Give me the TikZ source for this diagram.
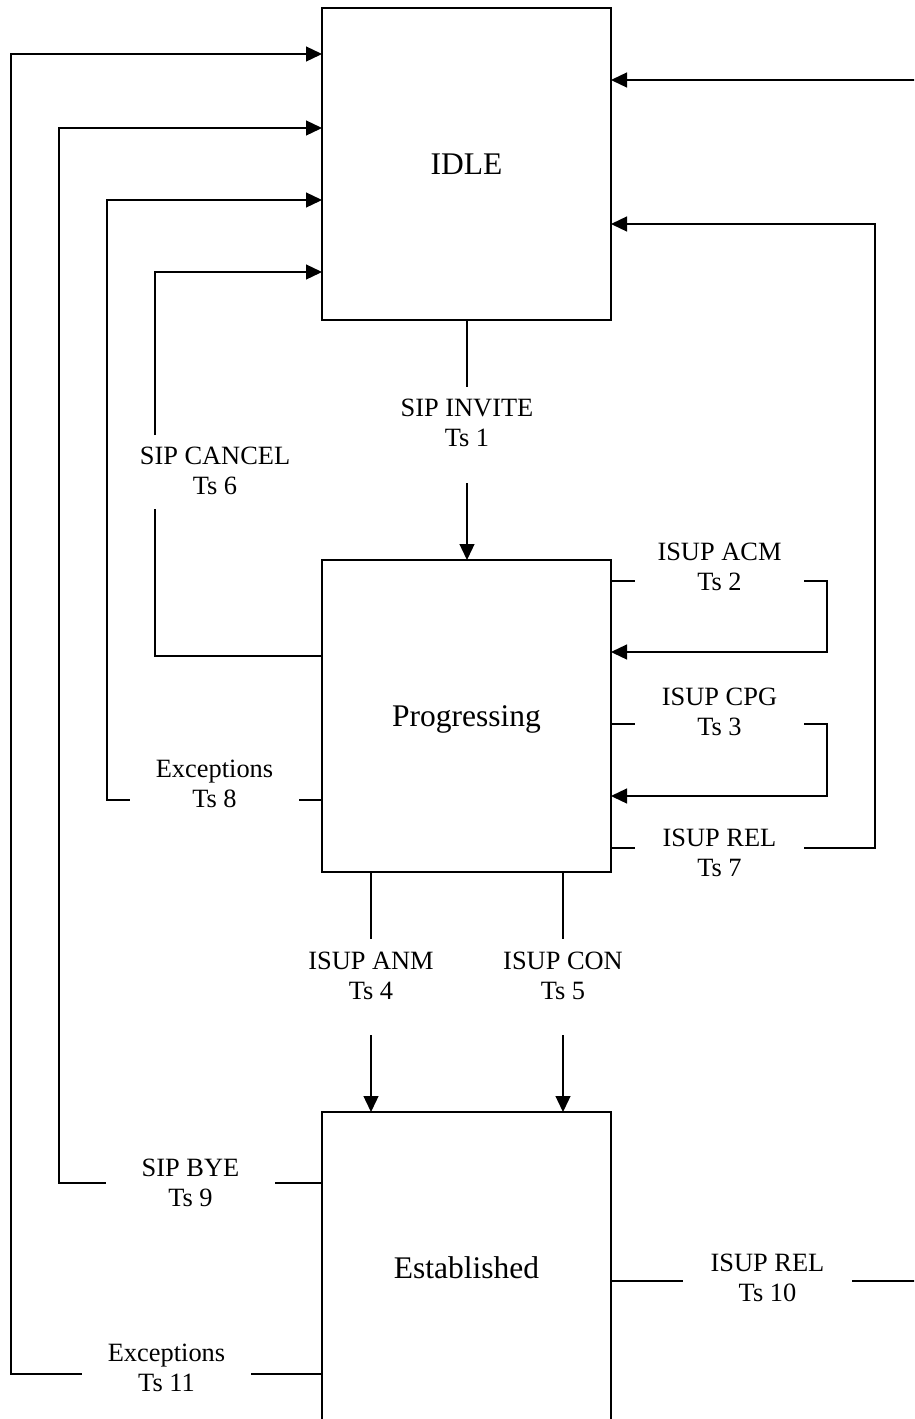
\documentclass[tikz,border=0pt]{standalone}
\usepackage{fontspec}
\setmainfont{Liberation Serif}
\usetikzlibrary{arrows.meta}
\begin{document}
\begin{tikzpicture}[x=1pt,y=-1pt,
  state/.style={draw, line width=1.5pt, minimum width=289pt, minimum height=312pt,
    inner sep=0pt, outer sep=0pt, font=\fontsize{31.5}{36}\selectfont,
    text height=20.9pt, text depth=0pt},
  lbl/.style={inner sep=0pt, minimum width=169pt, align=center,
    font=\fontsize{26.4}{30}\selectfont},
  conn/.style={line width=1.3pt},
  arr/.style={conn, -{Triangle[length=16pt 0 0,width=15pt 0 0]}}]
\useasboundingbox (0,0) rectangle (914,1419);
\clip (0,0) rectangle (914,1419);

% states
\node[state] (idle) at (466.5,164) {IDLE};
\node[state] (prog) at (466.5,716) {Progressing};
\node[state] (est)  at (466.5,1268) {Established};

% labels
\node[lbl] (inv)    at (467,422.5)    {SIP INVITE\\Ts 1};
\node[lbl] (cancel) at (215,470.5)    {SIP CANCEL\\Ts 6};
\node[lbl] (acm)    at (719.5,567)    {ISUP ACM\\Ts 2};
\node[lbl] (cpg)    at (719.5,711.5)  {ISUP CPG\\Ts 3};
\node[lbl] (rel7)   at (719.5,853)    {ISUP REL\\Ts 7};
\node[lbl] (exc8)   at (214.5,784)    {Exceptions\\Ts 8};
\node[lbl] (anm)    at (371,975.5)    {ISUP ANM\\Ts 4};
\node[lbl] (con)    at (563,975.5)    {ISUP CON\\Ts 5};
\node[lbl] (bye)    at (190.5,1182.5) {SIP BYE\\Ts 9};
\node[lbl] (exc11)  at (166.5,1367.5) {Exceptions\\Ts 11};
\node[lbl] (rel10)  at (767.5,1277.5) {ISUP REL\\Ts 10};

% helper coordinates
\coordinate (invA) at (467,387);  \coordinate (invB) at (467,483);
\coordinate (canA) at (155,435);  \coordinate (canB) at (155,509);
\coordinate (anmA) at (371,939);  \coordinate (anmB) at (371,1035);
\coordinate (conA) at (563,939);  \coordinate (conB) at (563,1035);
\coordinate (k11) at (11,1374);   \coordinate (t11) at (11,54);
\coordinate (k9)  at (59,1183);   \coordinate (t9)  at (59,128);
\coordinate (k8)  at (107,800);   \coordinate (t8)  at (107,200);
\coordinate (k6)  at (155,656);   \coordinate (t6)  at (155,272);
\coordinate (kacm) at (827,581);  \coordinate (bacm) at (827,652);
\coordinate (kcpg) at (827,724);  \coordinate (bcpg) at (827,796);
\coordinate (k7)  at (875,848);   \coordinate (t7)  at (875,224);
\coordinate (k10) at (920,1281);  \coordinate (t10) at (920,80);

% SIP INVITE
\draw[conn] (idle.south -| invA) -- (invA);
\draw[arr] (invB) -- (prog.north -| invB);
% SIP CANCEL
\draw[conn] (prog.west |- k6) -- (k6) -- (canB);
\draw[arr] (canA) -- (t6) -- (idle.west |- t6);
% Exceptions Ts 8
\draw[conn] (prog.west |- k8) -- (exc8.east |- k8);
\draw[arr] (exc8.west |- k8) -- (k8) -- (t8) -- (idle.west |- t8);
% SIP BYE
\draw[conn] (est.west |- k9) -- (bye.east |- k9);
\draw[arr] (bye.west |- k9) -- (k9) -- (t9) -- (idle.west |- t9);
% Exceptions Ts 11
\draw[conn] (est.west |- k11) -- (exc11.east |- k11);
\draw[arr] (exc11.west |- k11) -- (k11) -- (t11) -- (idle.west |- t11);
% ISUP ACM
\draw[conn] (prog.east |- kacm) -- (acm.west |- kacm);
\draw[arr] (acm.east |- kacm) -- (kacm) -- (bacm) -- (prog.east |- bacm);
% ISUP CPG
\draw[conn] (prog.east |- kcpg) -- (cpg.west |- kcpg);
\draw[arr] (cpg.east |- kcpg) -- (kcpg) -- (bcpg) -- (prog.east |- bcpg);
% ISUP REL Ts 7
\draw[conn] (prog.east |- k7) -- (rel7.west |- k7);
\draw[arr] (rel7.east |- k7) -- (k7) -- (t7) -- (idle.east |- t7);
% ISUP REL Ts 10
\draw[conn] (est.east |- k10) -- (rel10.west |- k10);
\draw[arr] (rel10.east |- k10) -- (k10) -- (t10) -- (idle.east |- t10);
% ISUP ANM / CON
\draw[conn] (prog.south -| anmA) -- (anmA);
\draw[arr] (anmB) -- (est.north -| anmB);
\draw[conn] (prog.south -| conA) -- (conA);
\draw[arr] (conB) -- (est.north -| conB);
\end{tikzpicture}
\end{document}
